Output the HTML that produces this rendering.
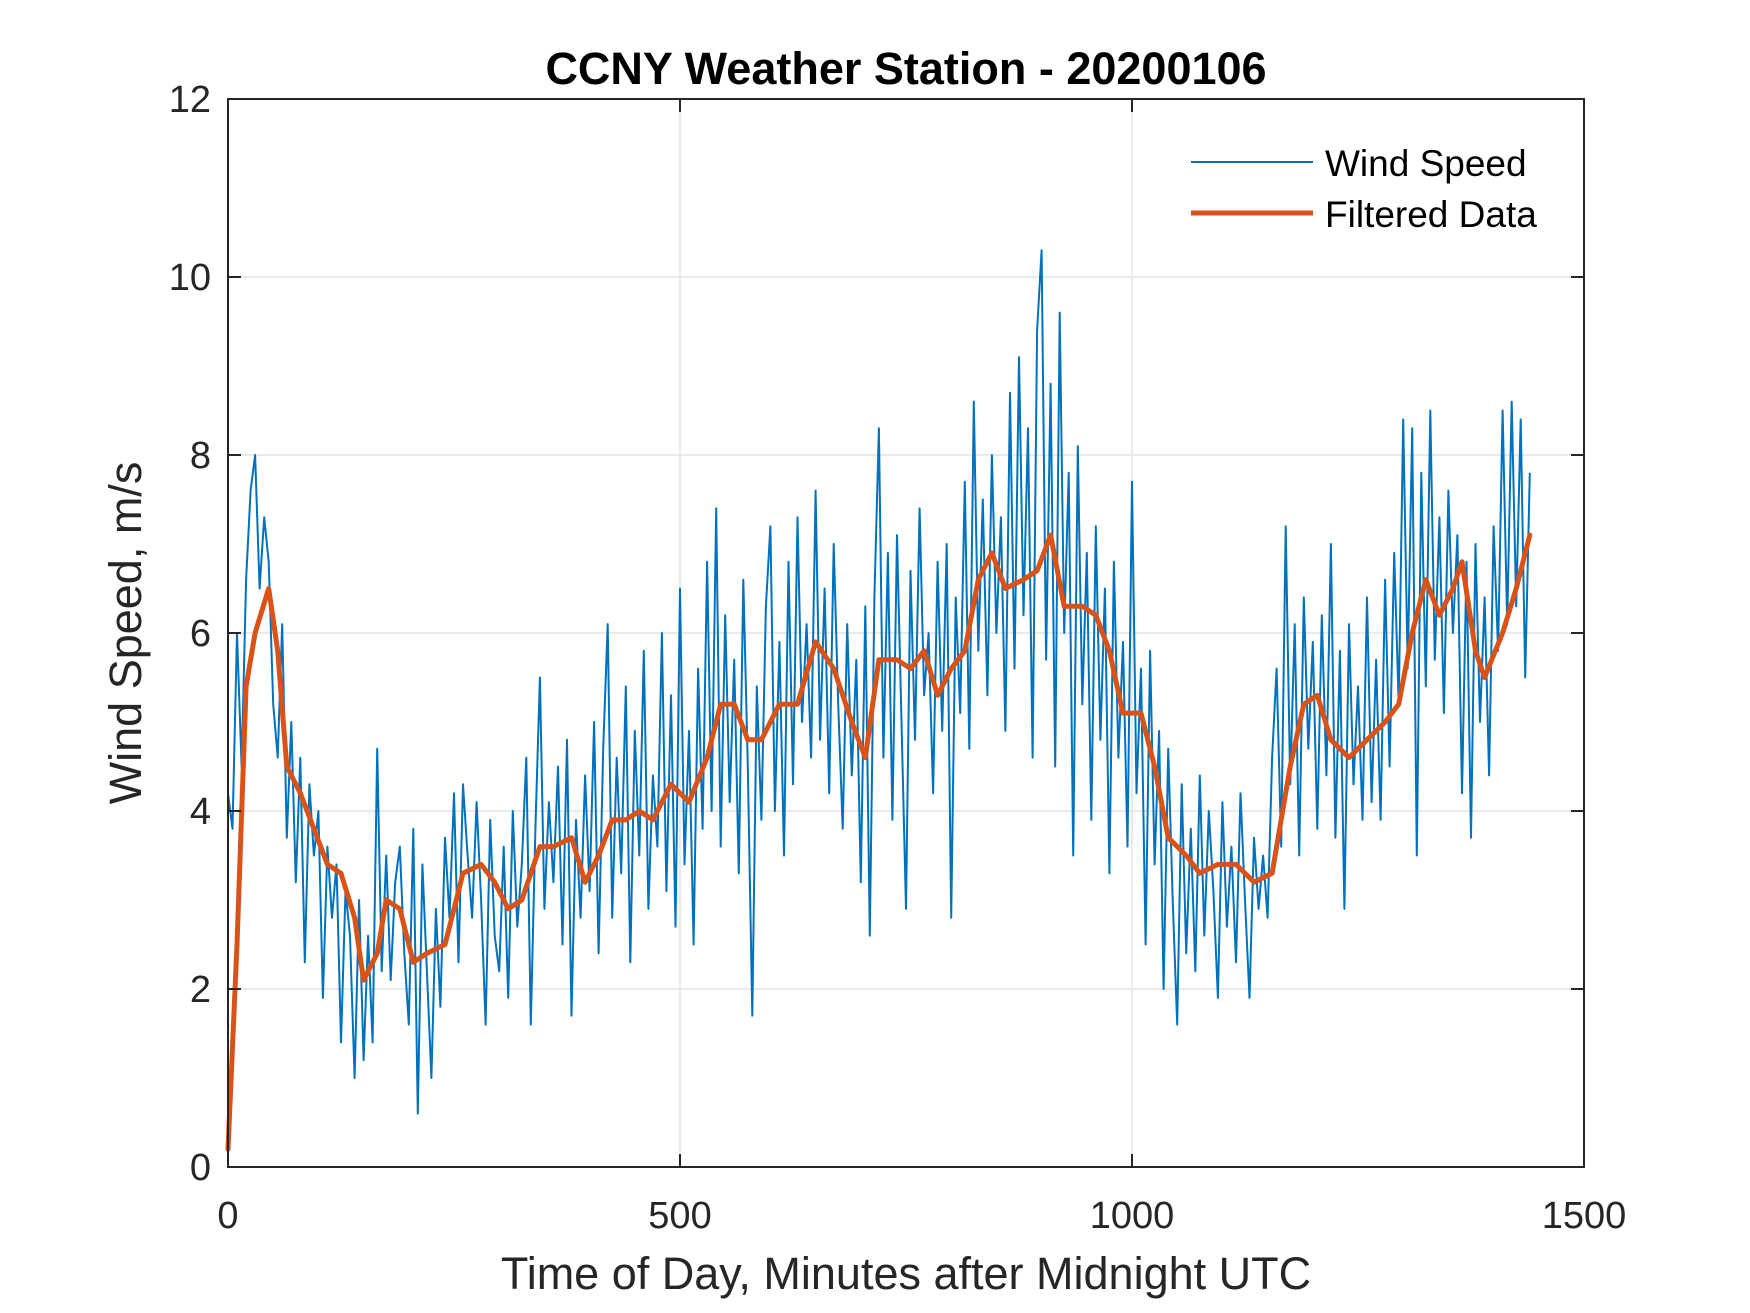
<!DOCTYPE html>
<html><head><meta charset="utf-8">
<style>
html,body{margin:0;padding:0;background:#fff;}
svg{display:block;font-family:"Liberation Sans",Arial,sans-serif;}
</style></head>
<body>
<svg id="chart" width="1750" height="1313" viewBox="0 0 1750 1313" xmlns="http://www.w3.org/2000/svg">
<rect width="1750" height="1313" fill="#fff"/>
<text x="906" y="84" font-size="45" font-weight="bold" text-anchor="middle" fill="#000">CCNY Weather Station - 20200106</text>
<g id="grid"></g>
<g id="series"></g>
<g id="axes"></g>
<text x="906" y="1289" font-size="45" text-anchor="middle" fill="#262626">Time of Day, Minutes after Midnight UTC</text>
<text transform="translate(141,633) rotate(-90)" font-size="45" text-anchor="middle" fill="#262626">Wind Speed, m/s</text>
<g>
<line x1="1191" y1="162" x2="1313" y2="162" stroke="#0072BD" stroke-width="2"/>
<text x="1325" y="176" font-size="37" fill="#000">Wind Speed</text>
<line x1="1191" y1="213" x2="1313" y2="213" stroke="#D95319" stroke-width="5"/>
<text x="1325" y="227" font-size="37" fill="#000">Filtered Data</text>
</g>
</svg>
<script>
const xTicks=[0,500,1000,1500];
const yTicks=[0,2,4,6,8,10,12];
const rawStep=5;
const rawValues=[
4.2,3.8,6.0,4.5,6.6,7.6,8.0,6.5,7.3,6.8,5.2,4.6,
6.1,3.7,5.0,3.2,4.6,2.3,4.3,3.5,4.0,1.9,3.6,2.8,
3.4,1.4,3.1,2.6,1.0,3.0,1.2,2.6,1.4,4.7,2.2,3.5,
2.1,3.2,3.6,2.4,1.6,3.8,0.6,3.4,2.2,1.0,2.9,1.8,
3.7,2.8,4.2,2.3,4.3,3.5,2.8,4.1,3.0,1.6,3.9,2.6,
2.2,3.6,1.9,4.0,2.7,3.4,4.6,1.6,3.8,5.5,2.9,4.1,
3.2,4.5,2.5,4.8,1.7,3.9,2.8,4.4,3.1,5.0,2.4,4.7,
6.1,2.8,4.6,3.3,5.4,2.3,4.9,3.5,5.8,2.9,4.4,3.6,
6.0,3.1,5.3,2.7,6.5,3.4,4.9,2.5,5.6,3.8,6.8,4.0,
7.4,3.6,6.2,4.1,5.7,3.3,6.6,4.5,1.7,5.4,3.9,6.3,
7.2,4.0,5.9,3.5,6.8,4.3,7.3,5.0,6.1,4.6,7.6,4.8,
6.5,4.2,7.0,5.2,3.8,6.1,4.4,5.7,3.2,6.3,2.6,6.4,
8.3,4.6,6.9,3.9,7.1,5.0,2.9,6.7,4.8,7.4,5.3,6.0,
4.2,6.8,4.9,7.0,2.8,6.4,5.1,7.7,4.7,8.6,5.8,7.5,
5.3,8.0,6.0,7.3,4.9,8.7,5.6,9.1,6.2,8.3,4.6,9.4,
10.3,5.7,8.8,4.5,9.6,6.0,7.8,3.5,8.1,5.2,6.9,3.9,
7.2,4.8,6.5,3.3,6.8,4.6,5.9,3.6,7.7,4.2,5.6,2.5,
5.8,3.4,4.9,2.0,4.7,3.0,1.6,4.3,2.4,3.8,2.2,4.4,
2.6,4.0,3.1,1.9,4.1,2.7,3.6,2.3,4.2,3.0,1.9,3.7,
2.9,3.5,2.8,4.6,5.6,3.6,7.2,4.3,6.1,3.5,6.4,4.7,
5.9,3.8,6.2,4.4,7.0,3.7,5.8,2.9,6.1,4.3,5.4,3.9,
6.4,4.1,5.7,3.9,6.6,4.5,6.9,5.2,8.4,5.6,8.3,3.5,
7.8,5.4,8.5,5.7,7.3,5.1,7.6,6.0,7.1,4.2,6.8,3.7,
7.0,5.0,6.4,4.4,7.2,5.8,8.5,6.1,8.6,6.3,8.4,5.5,
7.8];
const filtTimes=[0,10,20,30,45,55,65,80,95,110,125,140,150,165,175,190,205,220,240,260,280,295,310,325,345,360,380,395,410,425,440,455,470,490,510,530,545,560,575,590,610,630,650,670,690,705,720,740,755,770,785,800,815,830,845,860,880,895,910,925,945,960,975,990,1010,1025,1040,1060,1075,1095,1115,1135,1155,1175,1190,1205,1220,1240,1260,1280,1295,1310,1325,1340,1355,1365,1380,1390,1410,1425,1440];
const filtValues=[0.2,2.5,5.4,6.0,6.5,5.8,4.5,4.2,3.8,3.4,3.3,2.8,2.1,2.4,3.0,2.9,2.3,2.4,2.5,3.3,3.4,3.2,2.9,3.0,3.6,3.6,3.7,3.2,3.5,3.9,3.9,4.0,3.9,4.3,4.1,4.6,5.2,5.2,4.8,4.8,5.2,5.2,5.9,5.6,5.0,4.6,5.7,5.7,5.6,5.8,5.3,5.6,5.8,6.6,6.9,6.5,6.6,6.7,7.1,6.3,6.3,6.2,5.8,5.1,5.1,4.5,3.7,3.5,3.3,3.4,3.4,3.2,3.3,4.5,5.2,5.3,4.8,4.6,4.8,5.0,5.2,6.0,6.6,6.2,6.5,6.8,5.8,5.5,6.0,6.5,7.1];

const L=228,R=1584,T=99,B=1167;
const xs=v=>L+(v-0)/(1500-0)*(R-L);
const ys=v=>B-(v-0)/(12-0)*(B-T);
const NS='http://www.w3.org/2000/svg';
function mk(tag,attrs,parent){const e=document.createElementNS(NS,tag);for(const k in attrs)e.setAttribute(k,attrs[k]);parent.appendChild(e);return e;}
const grid=document.getElementById('grid'),axes=document.getElementById('axes'),series=document.getElementById('series');

xTicks.forEach(t=>{
  const x=xs(t);
  if(t>0&&t<1500){const g=mk('line',{x1:x,y1:T,x2:x,y2:B,stroke:'#e3e3e3','stroke-width':1.5},grid);
  
  }
  const a=mk('line',{x1:x,y1:B,x2:x,y2:B-13,stroke:'#262626','stroke-width':2},axes);
  
  
  const b=mk('line',{x1:x,y1:T,x2:x,y2:T+13,stroke:'#262626','stroke-width':2},axes);
  
  
  const tx=mk('text',{x:x,y:1228,'font-size':38,'text-anchor':'middle',fill:'#262626'},axes);
  tx.textContent=t;
  
  
});
yTicks.forEach(t=>{
  const y=ys(t);
  if(t>0&&t<12){const g=mk('line',{x1:L,y1:y,x2:R,y2:y,stroke:'#e3e3e3','stroke-width':1.5},grid);
  
  }
  const a=mk('line',{x1:L,y1:y,x2:L+13,y2:y,stroke:'#262626','stroke-width':2},axes);
  
  
  const b=mk('line',{x1:R,y1:y,x2:R-13,y2:y,stroke:'#262626','stroke-width':2},axes);
  
  
  const tx=mk('text',{x:211,y:y+13,'font-size':38,'text-anchor':'end',fill:'#262626'},axes);
  tx.textContent=t;
  
  
});
const box=mk('rect',{x:L,y:T,width:R-L,height:B-T,fill:'none',stroke:'#262626','stroke-width':2},axes);



const rawPts=rawValues.map((v,i)=>xs(i*rawStep).toFixed(1)+','+ys(v).toFixed(1)).join(' ');
const raw=mk('polyline',{points:rawPts,fill:'none',stroke:'#0072BD','stroke-width':2,'stroke-linejoin':'round'},series);


const fPts=filtValues.map((v,i)=>xs(filtTimes[i]).toFixed(1)+','+ys(v).toFixed(1)).join(' ');
const filt=mk('polyline',{points:fPts,fill:'none',stroke:'#D95319','stroke-width':5,'stroke-linejoin':'round','stroke-linecap':'round'},series);


</script>
</body></html>
